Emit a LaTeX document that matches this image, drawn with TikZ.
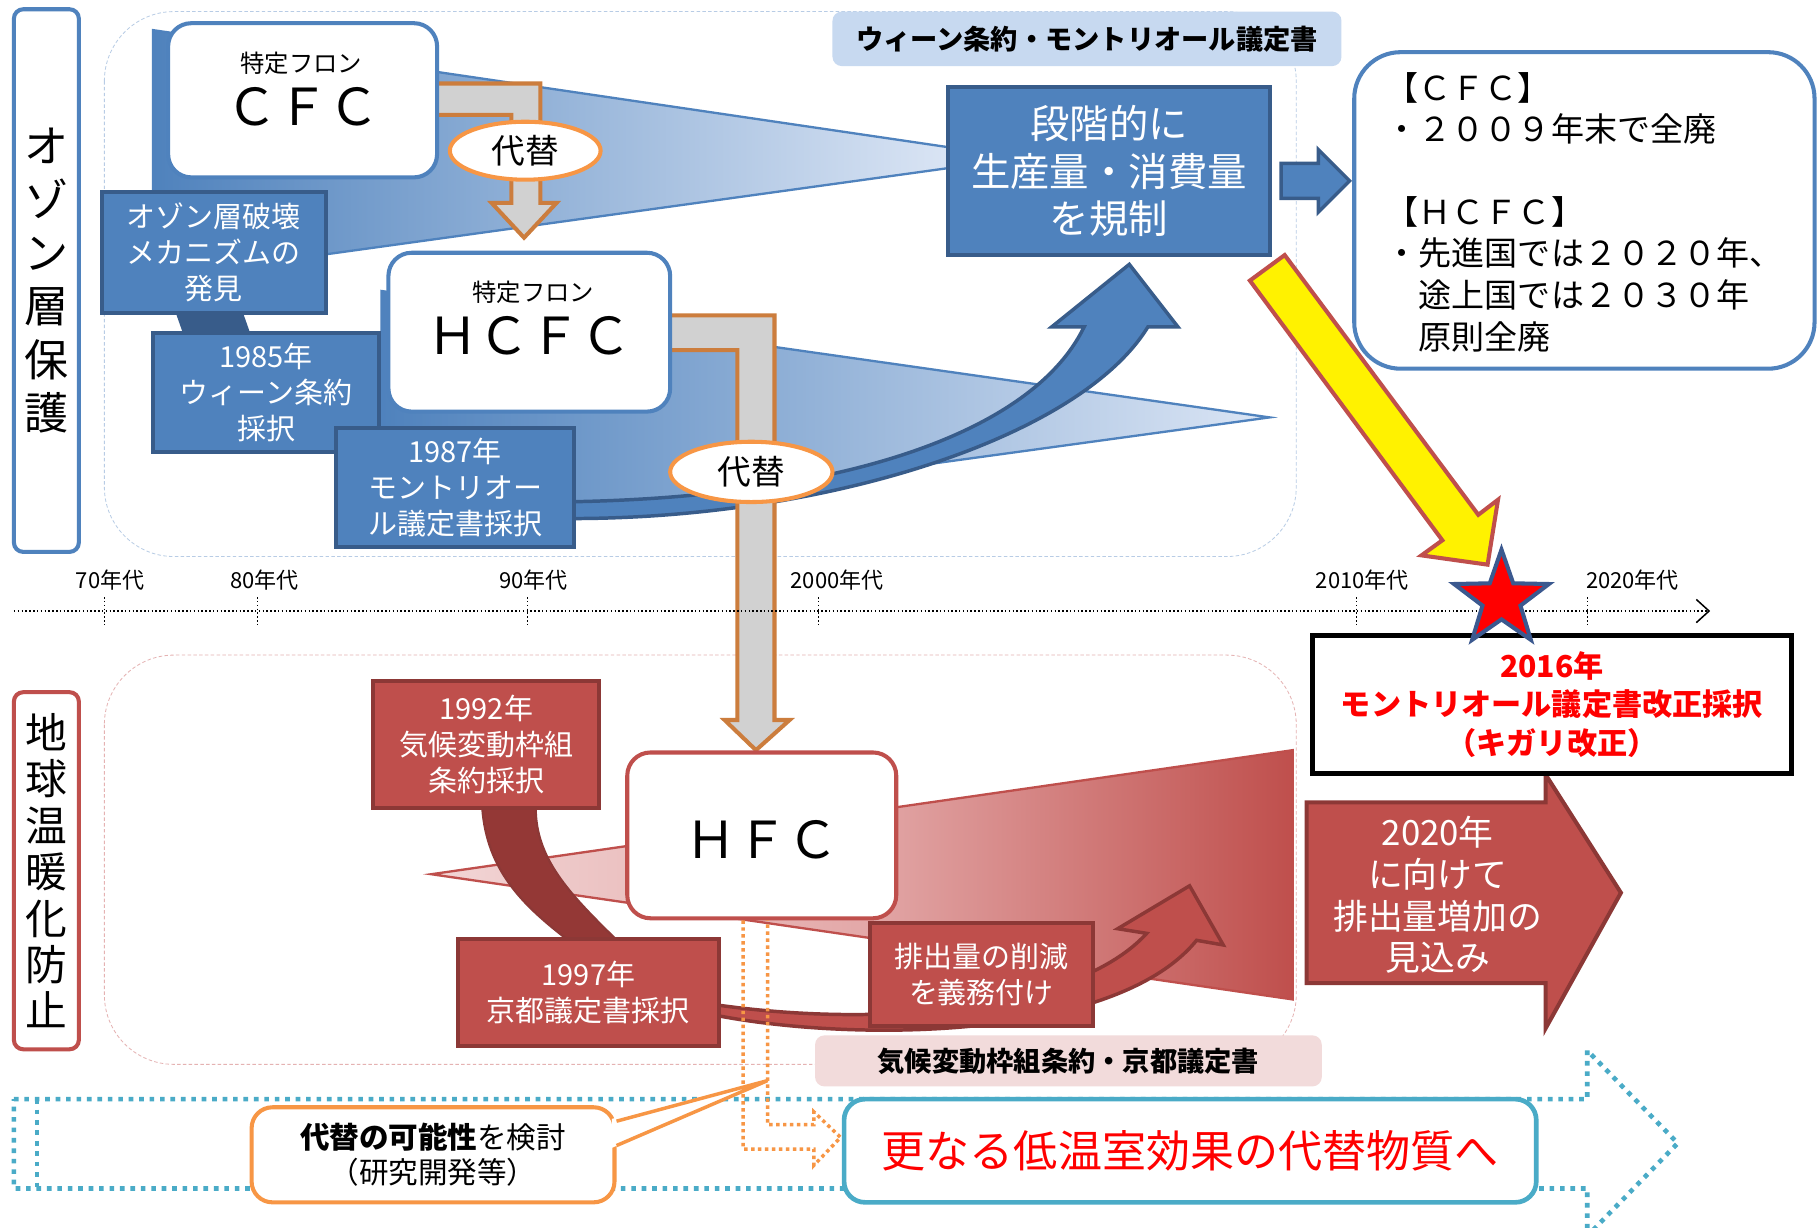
\documentclass[tikz,border=0pt]{standalone}
\usepackage{fontspec}
\setmainfont{Noto Sans CJK JP}
\usepackage{tikz}
\usetikzlibrary{positioning,shapes.geometric,arrows.meta}
\definecolor{blueclr}{rgb}{0.31, 0.51, 0.74}
\definecolor{blueln}{rgb}{0.22, 0.36, 0.54}
\definecolor{bluelt}{rgb}{0.86, 0.90, 0.96}
\definecolor{bluelbl}{rgb}{0.78, 0.85, 0.94}
\definecolor{bluebg}{rgb}{0.72, 0.80, 0.90}
\definecolor{redclr}{rgb}{0.75, 0.31, 0.30}
\definecolor{redln}{rgb}{0.55, 0.22, 0.21}
\definecolor{redlt}{rgb}{0.95, 0.84, 0.84}
\definecolor{redmid}{rgb}{0.89, 0.66, 0.66}
\definecolor{redlbl}{rgb}{0.95, 0.86, 0.86}
\definecolor{redbg}{rgb}{0.90, 0.70, 0.70}
\definecolor{darkred}{rgb}{0.58, 0.22, 0.21}
\definecolor{orangeclr}{rgb}{0.97, 0.59, 0.27}
\definecolor{brownclr}{rgb}{0.80, 0.49, 0.24}
\definecolor{grayclr}{rgb}{0.82, 0.82, 0.82}
\definecolor{cyanclr}{rgb}{0.29, 0.67, 0.78}
\definecolor{starln}{rgb}{0.23, 0.35, 0.56}
\definecolor{txtred}{rgb}{1, 0, 0}
\tikzset{ %
  ,>={Straight Barb[length=11pt, width=20pt, line width=1.3pt]}
  ,every node/.style={inner sep=0, align=center}
  ,sidebox/.style={draw, rounded corners=8pt, line width=3.5pt, fill=white, minimum width=56pt}
  ,gasbox/.style={draw, rounded corners=20pt, line width=3.5pt, fill=white}
  ,bluebox/.style={draw=blueln, fill=blueclr, line width=3.5pt, text=white, font=\fontsize{25}{31}\selectfont}
  ,redbox/.style={draw=redln, fill=redclr, line width=3.5pt, text=white, font=\fontsize{25}{31}\selectfont}
  ,subst/.style={draw=orangeclr, ellipse, line width=3.5pt, fill=white, font=\fontsize{29}{29}\selectfont}
  ,banner/.style={rounded corners=8pt, font=\bfseries\fontsize{23.5}{23.5}\selectfont}
  ,era/.style={font=\fontsize{19}{19}\selectfont}
  ,fron/.style={font=\fontsize{21}{21}\selectfont}
  ,gasname/.style={font=\fontsize{44}{44}\selectfont}
  ,wedge/.style={draw=blueclr, line width=2pt}
  ,substarrow/.style={fill=grayclr, draw=brownclr, line width=3.5pt, line join=miter}
  ,blockarrow/.style={line width=3pt, line join=miter}
}
\begin{document}
\begin{tikzpicture}[x=1pt, y=-1pt]
  \path[use as bounding box, fill=white] (0,0) rectangle (1568,1059);
  \draw[bluebg, densely dashed, line width=0.7pt, rounded corners=60pt] (90,10) rectangle (1118,480);
  \draw[redbg, densely dashed, line width=0.7pt, rounded corners=60pt] (90,565) rectangle (1118,918);

  \node[sidebox, draw=blueclr, minimum height=468pt, font=\fontsize{38}{46}\selectfont] (ozone) at (40,242) {オ\\ゾ\\ン\\層\\保\\護};
  \node[sidebox, draw=redclr, minimum height=308pt, font=\fontsize{36}{40}\selectfont] (warming) at (40,751) {地\\球\\温\\暖\\化\\防\\止};
  \node[banner, fill=bluelbl, minimum width=439pt, minimum height=47pt] (vienlbl) at (937.5,33.5) {ウィーン条約・モントリオール議定書};

  \draw[wedge, left color=blueclr, right color=bluelt] (132,26) -- (825,128) -- (825,144) -- (132,240) -- cycle;
  \draw[wedge, left color=blueclr, right color=bluelt] (329,251) -- (1095,360) -- (329,465) -- cycle;
  \fill[blueln] (152,271) -- (210,271) -- (216,288) -- (158,288) -- cycle;
  \draw[blockarrow, fill=blueclr, draw=blueln] (470,447) .. controls (700,452) and (930,380) .. (990,282) -- (1016,282) -- (974,228) -- (907,282) -- (935,282) .. controls (890,375) and (720,432) .. (470,433) -- cycle;

  \draw[substarrow] (370,72) -- (466,72) -- (466,175) -- (480,175) -- (452,205) -- (424,175) -- (441,175) -- (441,99) -- (370,99) -- cycle;
  \draw[substarrow] (570,272) -- (668,272) -- (668,621) -- (681,621) -- (652,647) -- (625,621) -- (636,621) -- (636,302) -- (570,302) -- cycle;

  \node[gasbox, draw=blueclr, minimum width=232pt, minimum height=133pt] (cfc) at (261,86.5) {};
  \node[fron] (cfctag) at (260,55) {特定フロン};
  \node[gasname] (cfcname) at (261,92) {ＣＦＣ};
  \node[gasbox, draw=blueclr, minimum width=243pt, minimum height=137pt] (hcfc) at (456.5,286.5) {};
  \node[fron] (hcfctag) at (460,252) {特定フロン};
  \node[gasname] (hcfcname) at (457,290) {ＨＣＦＣ};

  \node[bluebox, minimum width=193pt, minimum height=104pt] (discovery) at (184.5,218) {オゾン層破壊\\メカニズムの\\発見};
  \node[bluebox, minimum width=195pt, minimum height=103pt] (vienna) at (229.5,338.5) {1985年\\ウィーン条約\\採択};
  \node[bluebox, minimum width=205pt, minimum height=103pt] (montreal) at (392.5,420.5) {1987年\\モントリオー\\ル議定書採択};
  \node[bluebox, minimum width=277pt, minimum height=145pt, font=\fontsize{34}{41}\selectfont] (regulate) at (956.5,147.5) {段階的に\\生産量・消費量\\を規制};
  \node[subst, minimum width=130pt, minimum height=50pt] (subst1) at (453,130) {代替};
  \node[subst, minimum width=140pt, minimum height=52pt] (subst2) at (648,407) {代替};

  \draw[blockarrow, fill=blueclr, draw=blueln] (1105,141) -- (1137,141) -- (1137,129) -- (1164,156) -- (1137,183) -- (1137,171) -- (1105,171) -- cycle;
  \node[draw=blueclr, line width=3.5pt, fill=white, rounded corners=40pt, minimum width=397pt, minimum height=273pt] (phasebox) at (1366.5,181.5) {};
  \node[anchor=west, text width=350pt, align=left, font=\fontsize{28.5}{36}\selectfont] (phaseout) at (1195,183) {【ＣＦＣ】\\・２００９年末で全廃\\[35pt]【ＨＣＦＣ】\\・先進国では２０２０年、\\　途上国では２０３０年\\　原則全廃};
  \draw[fill=yellow, draw=redclr, line width=3.5pt, line join=miter] (1108,220) -- (1275,444) -- (1292,431) -- (1283,487) -- (1226,479) -- (1244,466) -- (1078,242) -- cycle;

  \draw[dotted, line width=1.3pt, ->] (12,527) -- (1475,527);
  \foreach \tx/\lx/\decade in {90/95/70年代, 222/228/80年代, 455/460/90年代, 706/722/2000年代, 1170/1175/2010年代, 1369/1408/2020年代} {
    \draw[dotted, line width=1.3pt] (\tx,515) -- (\tx,540);
    \node[era] at (\lx,500) {\decade};
  }

  \draw[draw=redclr, line width=2pt, left color=redlt, right color=redclr, middle color=redmid] (372,754) -- (1115,647) -- (1115,862) -- cycle;
  \draw[fill=darkred, draw=redln, line width=2pt] (416,697) .. controls (420,750) and (450,780) .. (489,810) -- (531,810) .. controls (490,770) and (462,740) .. (462,697) -- cycle;
  \draw[blockarrow, fill=redclr, draw=redln] (600,872) .. controls (720,900) and (960,900) .. (1032,811) -- (1055,815) -- (1026,764) -- (964,801) -- (989,805) .. controls (930,870) and (760,890) .. (600,864) -- cycle;
  \node[gasbox, draw=redclr, minimum width=232pt, minimum height=143pt] (hfc) at (657,720.5) {};
  \node[gasname] (hfcname) at (657,724) {ＨＦＣ};
  \node[redbox, minimum width=195pt, minimum height=110pt] (unfccc) at (419.5,642) {1992年\\気候変動枠組\\条約採択};
  \node[redbox, minimum width=225pt, minimum height=92pt] (kyoto) at (507.5,856) {1997年\\京都議定書採択};
  \node[redbox, minimum width=193pt, minimum height=89pt] (duty) at (846.5,840.5) {排出量の削減\\を義務付け};
  \node[banner, fill=redlbl, minimum width=437pt, minimum height=44pt] (kyotolbl) at (921.5,915) {気候変動枠組条約・京都議定書};
  \draw[blockarrow, fill=redclr, draw=redln, line width=3.5pt] (1127,692) -- (1333,692) -- (1333,668) -- (1398,770) -- (1333,887) -- (1333,848) -- (1127,848) -- cycle;
  \node[text=white, font=\fontsize{30}{36}\selectfont] (rise) at (1240,772) {2020年\\に向けて\\排出量増加の\\見込み};
  \node[draw=black, fill=white, line width=4pt, minimum width=413pt, minimum height=119pt, text=txtred, font=\bfseries\fontsize{26}{33}\selectfont] (amend) at (1338.5,607.5) {2016年\\モントリオール議定書改正採択\\（キガリ改正）};
  \node[star, star points=5, star point ratio=2.5, minimum size=86pt, fill=red, draw=starln, line width=3.5pt] (kigali) at (1295,517) {};

  \draw[cyanclr, line width=4pt, dash pattern=on 4pt off 5pt] (12,948) -- (1369,948) -- (1369,906) -- (1447,986) -- (1369,1066) -- (1369,1025) -- (12,1025) -- cycle;
  \draw[cyanclr, line width=4pt, dash pattern=on 4pt off 5pt] (32,948) -- (32,1025);
  \draw[orangeclr, line width=3pt, dash pattern=on 3pt off 3pt] (hfc.south -| 641,0) -- (641,991) -- (702,991) -- (702,1005) -- (725,981) -- (702,959) -- (702,970) -- (662,970) -- (hfc.south -| 662,0);
  \node[draw=orangeclr, fill=white, line width=3.5pt, rounded corners=18pt, minimum width=313pt, minimum height=82pt, font=\fontsize{25.5}{30}\selectfont] (study) at (373.5,996) {{\bfseries 代替の可能性}を検討\\（研究開発等）};
  \coordinate (studytip) at (662,932);
  \fill[white] ([xshift=-4pt, yshift=31pt]study.east) -- (studytip) -- ([xshift=-4pt, yshift=6pt]study.east) -- cycle;
  \draw[orangeclr, line width=3pt] ([yshift=29pt]study.east) -- (studytip) -- ([yshift=8pt]study.east);
  \node[draw=cyanclr, fill=white, line width=4pt, rounded corners=18pt, minimum width=597pt, minimum height=89pt, text=txtred, font=\fontsize{38}{38}\selectfont] (future) at (1026.5,992.5) {更なる低温室効果の代替物質へ};
\end{tikzpicture}
\end{document}
